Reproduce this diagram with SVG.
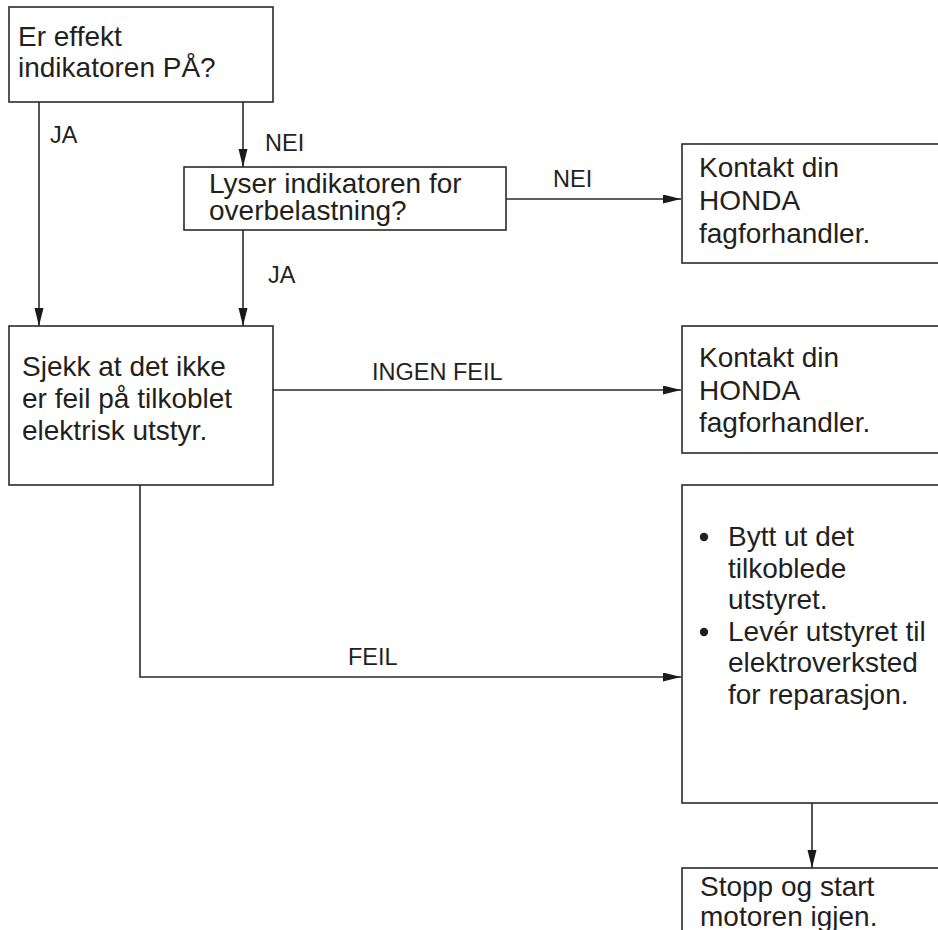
<svg xmlns="http://www.w3.org/2000/svg" width="938" height="930" viewBox="0 0 938 930">
<style>
.box{fill:#fff;stroke:#2a2a2a;stroke-width:1.6}
.t{font-family:"Liberation Sans",Arial,sans-serif;font-size:28px;fill:#231f20}
.l{font-family:"Liberation Sans",Arial,sans-serif;font-size:23.5px;fill:#231f20}
.c{fill:none;stroke:#2a2a2a;stroke-width:1.6}
</style>
<defs>
<marker id="ah" markerUnits="userSpaceOnUse" markerWidth="19" markerHeight="10" refX="18" refY="4.5" orient="auto">
<path d="M0,0 L18,4.5 L0,9 z" fill="#1a1a1a"/>
</marker>
</defs>
<rect width="938" height="930" fill="#fff"/>
<g id="connectors">
<line class="c" x1="39" y1="102" x2="39" y2="326" marker-end="url(#ah)"/>
<line class="c" x1="243" y1="102" x2="243" y2="167" marker-end="url(#ah)"/>
<line class="c" x1="243" y1="230" x2="243" y2="326" marker-end="url(#ah)"/>
<line class="c" x1="506" y1="199" x2="681" y2="199" marker-end="url(#ah)"/>
<line class="c" x1="273" y1="390" x2="681" y2="390" marker-end="url(#ah)"/>
<polyline class="c" points="140,485 140,677 681,677" marker-end="url(#ah)"/>
<line class="c" x1="812" y1="803" x2="812" y2="868" marker-end="url(#ah)"/>
<text class="l" x="50" y="143">JA</text>
<text class="l" x="265" y="151">NEI</text>
<text class="l" x="268" y="283">JA</text>
<text class="l" x="553" y="187">NEI</text>
<text class="l" x="372" y="380">INGEN FEIL</text>
<text class="l" x="348" y="665">FEIL</text>
</g>
<g id="n1">
<rect class="box" x="9" y="7" width="264" height="95"/>
<text class="t" x="18" y="46">Er effekt</text>
<text class="t" x="18" y="77">indikatoren PÅ?</text>
</g>
<g id="n2">
<rect class="box" x="184" y="167" width="322" height="63"/>
<text class="t" x="209" y="193">Lyser indikatoren for</text>
<text class="t" x="209" y="220">overbelastning?</text>
</g>
<g id="n3">
<rect class="box" x="682" y="144" width="280" height="119"/>
<text class="t" x="699" y="177">Kontakt din</text>
<text class="t" x="699" y="210">HONDA</text>
<text class="t" x="699" y="243">fagforhandler.</text>
</g>
<g id="n4">
<rect class="box" x="9" y="326" width="264" height="159"/>
<text class="t" x="22" y="376">Sjekk at det ikke</text>
<text class="t" x="22" y="408">er feil på tilkoblet</text>
<text class="t" x="22" y="440">elektrisk utstyr.</text>
</g>
<g id="n5">
<rect class="box" x="682" y="326" width="280" height="127"/>
<text class="t" x="699" y="367">Kontakt din</text>
<text class="t" x="699" y="400">HONDA</text>
<text class="t" x="699" y="432">fagforhandler.</text>
</g>
<g id="n6">
<rect class="box" x="682" y="485" width="280" height="318"/>
<circle cx="704" cy="537" r="4.2" fill="#231f20"/>
<circle cx="704" cy="632" r="4.2" fill="#231f20"/>
<text class="t" x="728" y="546">Bytt ut det</text>
<text class="t" x="728" y="578">tilkoblede</text>
<text class="t" x="728" y="609">utstyret.</text>
<text class="t" x="728" y="641">Levér utstyret til</text>
<text class="t" x="728" y="672">elektroverksted</text>
<text class="t" x="728" y="704">for reparasjon.</text>
</g>
<g id="n7">
<rect class="box" x="682" y="868" width="280" height="100"/>
<text class="t" x="700" y="896">Stopp og start</text>
<text class="t" x="700" y="926">motoren igjen.</text>
</g>
</svg>
